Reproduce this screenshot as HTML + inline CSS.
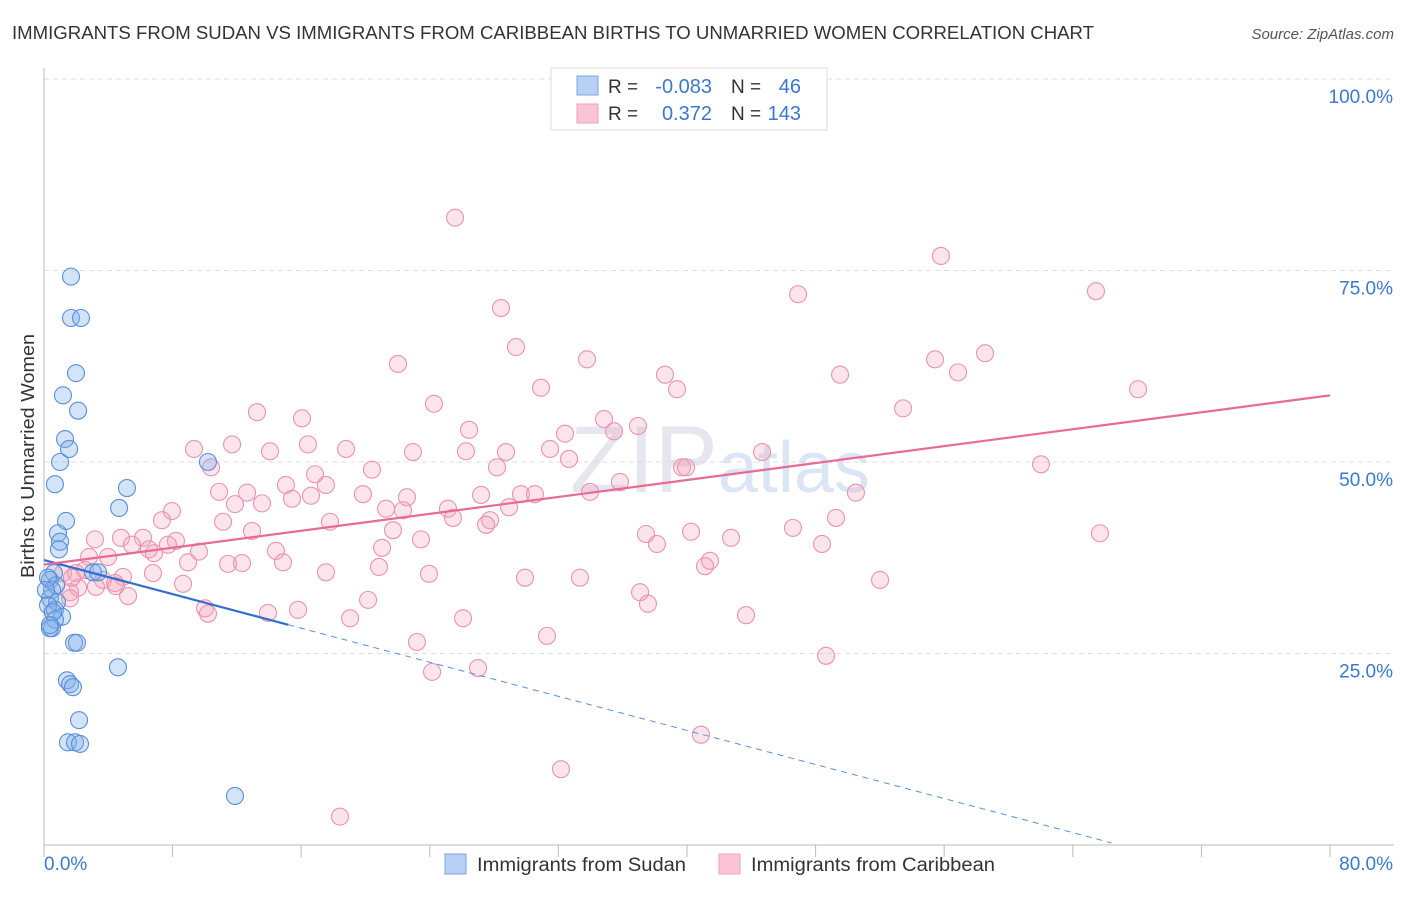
<!DOCTYPE html>
<html><head><meta charset="utf-8">
<style>
body{margin:0;background:#fff;font-family:"Liberation Sans",sans-serif;}
svg text{font-family:"Liberation Sans",sans-serif;}
</style></head>
<body>
<svg id="chart" width="1406" height="892" xmlns="http://www.w3.org/2000/svg">
<text x="12" y="39" font-size="18" fill="#333" textLength="1082" lengthAdjust="spacingAndGlyphs">IMMIGRANTS FROM SUDAN VS IMMIGRANTS FROM CARIBBEAN BIRTHS TO UNMARRIED WOMEN CORRELATION CHART</text>
<text x="1394" y="39" font-size="15" fill="#555" text-anchor="end" font-style="italic">Source: ZipAtlas.com</text>
<text x="720" y="492" font-size="95" fill="#e6e6ee" text-anchor="middle" font-family="Liberation Serif">ZIP<tspan fill="#dbe6f5" font-family="Liberation Sans" font-size="72">atlas</tspan></text>
<g id="grid"></g>
<g id="axes"></g>
<g id="marks"></g>
<g id="lines"></g>
<text transform="translate(34,456) rotate(-90)" font-size="18" fill="#333" text-anchor="middle" textLength="244" lengthAdjust="spacingAndGlyphs">Births to Unmarried Women</text>
<g>
<rect x="551" y="68" width="276" height="62" fill="#fff" stroke="#ddd"/>
<rect x="577" y="76" width="21" height="19" fill="#b7d0f3" stroke="#7aa5e0"/>
<rect x="577" y="104" width="21" height="19" fill="#f9c4d3" stroke="#eea0b8"/>
<text x="608" y="93" font-size="19" fill="#333">R =</text>
<text x="712" y="93" font-size="20" fill="#3b78d0" text-anchor="end">-0.083</text>
<text x="731" y="93" font-size="19" fill="#333">N =</text>
<text x="801" y="93" font-size="20" fill="#3b78d0" text-anchor="end">46</text>
<text x="608" y="120" font-size="19" fill="#333">R =</text>
<text x="712" y="120" font-size="20" fill="#3b78d0" text-anchor="end">0.372</text>
<text x="731" y="120" font-size="19" fill="#333">N =</text>
<text x="801" y="120" font-size="20" fill="#3b78d0" text-anchor="end">143</text>
</g>
<g>
<rect x="445" y="854" width="21" height="20" fill="#b7d0f3" stroke="#7aa5e0"/>
<text x="477" y="871" font-size="19" fill="#333" textLength="209" lengthAdjust="spacingAndGlyphs">Immigrants from Sudan</text>
<rect x="719" y="854" width="21" height="20" fill="#f9c4d3" stroke="#eea0b8"/>
<text x="751" y="871" font-size="19" fill="#333" textLength="244" lengthAdjust="spacingAndGlyphs">Immigrants from Caribbean</text>
</g>
</svg>
<script>
const yTicks=[25,50,75,100];
const yTickLabels=["25.0%","50.0%","75.0%","100.0%"];
const xTicks=[0,8,16,24,32,40,48,56,64,72,80];
const xEndLabels=["0.0%","80.0%"];
const sudanX=[1.68,1.68,2.30,1.99,1.18,2.12,1.31,1.56,1.0,0.68,5.16,4.67,1.37,0.87,1.0,0.93,3.05,0.62,0.37,0.75,0.5,0.37,0.81,0.68,1.12,0.68,0.5,0.37,1.87,2.05,4.6,1.43,1.62,1.8,2.18,1.49,1.93,2.24,11.88,0.25,0.12,0.25,0.56,0.37,10.2,3.36];
const sudanY=[74.2,68.8,68.8,61.6,58.7,56.7,53.0,51.7,50.0,47.1,46.6,44.0,42.3,40.7,39.6,38.6,35.6,35.5,34.6,33.9,33.3,32.2,31.7,30.7,29.8,29.4,28.3,28.3,26.4,26.4,23.2,21.5,21.0,20.6,16.3,13.4,13.4,13.2,6.4,34.9,33.3,31.3,30.4,28.7,50.0,35.6];
const caribX=[25.57,55.80,46.91,65.44,28.43,29.36,33.78,22.02,58.54,55.43,38.63,49.52,56.86,39.38,68.06,30.92,24.26,53.44,13.25,16.05,34.84,35.46,26.44,36.95,32.41,11.70,9.33,16.42,18.79,14.06,22.95,26.25,28.74,31.48,44.67,10.39,20.40,28.18,32.66,39.69,39.94,62.02,16.86,15.05,17.54,10.89,12.63,19.84,22.58,16.61,33.97,50.51,35.83,11.88,13.56,15.43,29.67,30.54,27.19,28.93,25.13,7.96,22.33,21.28,7.34,11.14,17.79,25.44,27.75,27.50,49.27,12.94,23.45,3.17,4.79,6.16,21.71,37.45,40.25,42.74,46.59,65.69,38.13,48.40,5.47,8.21,7.71,6.53,3.98,9.64,14.43,6.84,2.80,21.03,8.96,14.87,11.45,12.32,41.43,41.12,6.78,17.54,20.84,23.95,29.92,33.34,52.01,1.18,1.99,4.91,3.67,4.48,5.23,8.65,2.12,37.08,1.62,37.57,20.16,10.02,15.80,13.93,10.20,19.04,26.07,43.67,31.29,23.20,48.65,24.14,27.00,40.87,32.16,18.41,1.62,1.74,4.42,3.23,2.55];
const caribY=[81.9,76.9,71.9,72.3,70.1,65.0,63.4,62.8,64.2,63.4,61.4,61.4,61.7,59.5,59.5,59.7,57.6,57.0,56.5,55.7,55.6,54.0,54.2,54.7,53.7,52.3,51.7,52.3,51.7,51.4,51.3,51.4,51.3,51.7,51.3,49.3,49.0,49.3,50.4,49.3,49.3,49.7,48.4,47.0,47.0,46.1,46.0,45.8,45.4,45.6,46.1,46.0,47.4,44.5,44.6,45.2,45.8,45.8,45.7,44.1,43.9,43.6,43.7,43.9,42.4,42.2,42.2,42.7,42.4,41.8,42.7,41.0,39.9,39.9,40.1,40.1,41.1,40.6,40.9,40.1,41.4,40.7,39.3,39.3,39.2,39.7,39.2,38.6,37.6,38.3,38.4,38.1,37.6,38.8,36.9,36.9,36.7,36.8,37.1,36.4,35.5,35.6,36.3,35.4,34.9,34.9,34.6,35.5,35.5,35.0,34.6,33.8,32.5,34.1,33.6,33.0,33.0,31.5,32.0,30.9,30.7,30.3,30.2,29.6,29.6,30.0,27.3,26.5,24.7,22.6,23.1,14.4,9.9,3.7,32.2,34.9,34.2,33.7,35.9];
const sudanTrend=[37.2,-0.556];
const sudanSolidEnd=15.2, sudanDashEnd=66.4;
const caribTrend=[36.6,58.7];

const NS="http://www.w3.org/2000/svg";
const X0=44,X1=1330,Y0=845,Y100=79;
const xs=v=>X0+(v/80)*(X1-X0);
const ys=v=>Y0-(v/100)*(Y0-Y100);
function mk(tag,attrs,parent){const e=document.createElementNS(NS,tag);for(const k in attrs)e.setAttribute(k,attrs[k]);parent.appendChild(e);return e;}
const grid=document.getElementById('grid'),axes=document.getElementById('axes'),marks=document.getElementById('marks'),lines=document.getElementById('lines');
yTicks.forEach((t,i)=>{
  const l=mk('line',{x1:X0,x2:1394,y1:ys(t),y2:ys(t),stroke:'#ddd','stroke-dasharray':'5,4'},grid);
  
  
  const tx=mk('text',{x:1393,y:ys(t)+24,'font-size':19,fill:'#3b78d0','text-anchor':'end'},axes);
  tx.textContent=yTickLabels[i];
  
  
});
const ya=mk('line',{x1:X0,x2:X0,y1:68,y2:Y0,stroke:'#bbb'},axes);


const xa=mk('line',{x1:X0,x2:1394,y1:Y0,y2:Y0,stroke:'#bbb'},axes);


xTicks.forEach(t=>{
  const l=mk('line',{x1:xs(t),x2:xs(t),y1:Y0,y2:Y0+12,stroke:'#bbb'},axes);
  
  
});
[[0,'start',X0],[1,'end',1393]].forEach(([i,a,x])=>{
  const tx=mk('text',{x:x,y:870,'font-size':19,fill:'#3b78d0','text-anchor':a},axes);
  tx.textContent=xEndLabels[i];
  
  
});
caribX.forEach((v,i)=>{
  const c=mk('circle',{cx:xs(v),cy:ys(caribY[i]),r:8.5,fill:'rgba(243,165,190,0.3)',stroke:'#ea93b0','stroke-width':1.1},marks);
  
  
});
sudanX.forEach((v,i)=>{
  const c=mk('circle',{cx:xs(v),cy:ys(sudanY[i]),r:8.5,fill:'rgba(130,175,235,0.35)',stroke:'#5a8fd8','stroke-width':1.1},marks);
  
  
});
const sy=x=>sudanTrend[0]+sudanTrend[1]*x;
const s1=mk('line',{x1:xs(0),y1:ys(sy(0)),x2:xs(sudanSolidEnd),y2:ys(sy(sudanSolidEnd)),stroke:'#2f6fd0','stroke-width':2.2},lines);


const s2=mk('line',{x1:xs(sudanSolidEnd),y1:ys(sy(sudanSolidEnd)),x2:xs(sudanDashEnd),y2:ys(sy(sudanDashEnd)),stroke:'#5a8fd8','stroke-width':1,'stroke-dasharray':'6,5'},lines);


const p=mk('line',{x1:xs(0),y1:ys(caribTrend[0]),x2:xs(80),y2:ys(caribTrend[1]),stroke:'#e86a95','stroke-width':2.2},lines);


</script>
</body></html>
